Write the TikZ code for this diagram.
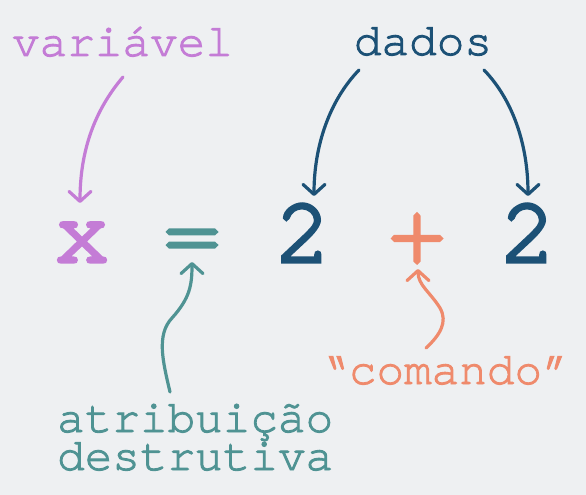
\documentclass[tikz,border=0pt]{standalone}
\usepackage{fontspec}
\newfontfamily\lblmono[FakeBold=2]{TeX Gyre Cursor}
\newfontfamily\bigmono[FakeBold=3.5]{TeX Gyre Cursor}
\usetikzlibrary{arrows.meta}
\definecolor{bgc}{HTML}{EEF0F2}
\definecolor{purp}{HTML}{C47CD6}
\definecolor{dblue}{HTML}{1C5176}
\definecolor{teal}{HTML}{4F9393}
\definecolor{orng}{HTML}{EF8A6C}
\tikzset{
  lbl/.style={font=\lblmono\fontsize{46}{38}\selectfont, inner sep=0pt, anchor=base},
  bigx/.style={font=\bigmono\fontsize{94}{94}\selectfont, inner sep=0pt, anchor=base},
  arr/.style={line width=3.2pt, line cap=round, -{Straight Barb[length=10pt,width=22pt,line width=3.2pt,round]}},
}
\begin{document}
\begin{tikzpicture}[x=1pt,y=-1pt]
\fill[bgc] (0,0) rectangle (586,495);
\useasboundingbox (0,0) rectangle (586,495);
% labels
\node[lbl, text=purp] (var) at (122.5,56) {variável};
\node[lbl, text=dblue] (dados) at (423,55) {dados};
\node[lbl, text=teal, align=left, anchor=base west] (atr) at (57,470) {atribuição\\destrutiva};
\node[lbl, text=orng] (cmd) at (445.5,384) {“comando”};
% formula
\node[bigx, text=purp] (x) at (82,262) {x};
\node[bigx, text=teal] (eq) at (192,262) {=};
\node[bigx, text=dblue] (two1) at (303,262) {2};
\node[bigx, text=orng] (plus) at (417,262) {+};
\node[bigx, text=dblue] (two2) at (528,262) {2};
% endpoints
\coordinate (varS) at (123,77);
\coordinate (xT) at (80,203);
\coordinate (dadL) at (359,70);
\coordinate (twoAT) at (314,196);
\coordinate (dadR) at (484,70);
\coordinate (twoBT) at (528,196);
\coordinate (atrT) at (170,392);
\coordinate (eqB) at (192,262);
\coordinate (cmdT) at (426,348);
\coordinate (plusB) at (418,269);
% arrows
\draw[arr, purp] (varS) .. controls (95,110) and (80,150) .. (xT);
\draw[arr, dblue] (dadL) .. controls (330,100) and (314,145) .. (twoAT);
\draw[arr, dblue] (dadR) .. controls (513,100) and (528,145) .. (twoBT);
\draw[arr, teal] (atrT) .. controls (163,362) and (156,335) .. (172,318) .. controls (190,298) and (192,285) .. (eqB);
\draw[arr, orng] (cmdT) .. controls (440,335) and (448,322) .. (440,308) .. controls (430,292) and (418,285) .. (plusB);
\end{tikzpicture}
\end{document}
